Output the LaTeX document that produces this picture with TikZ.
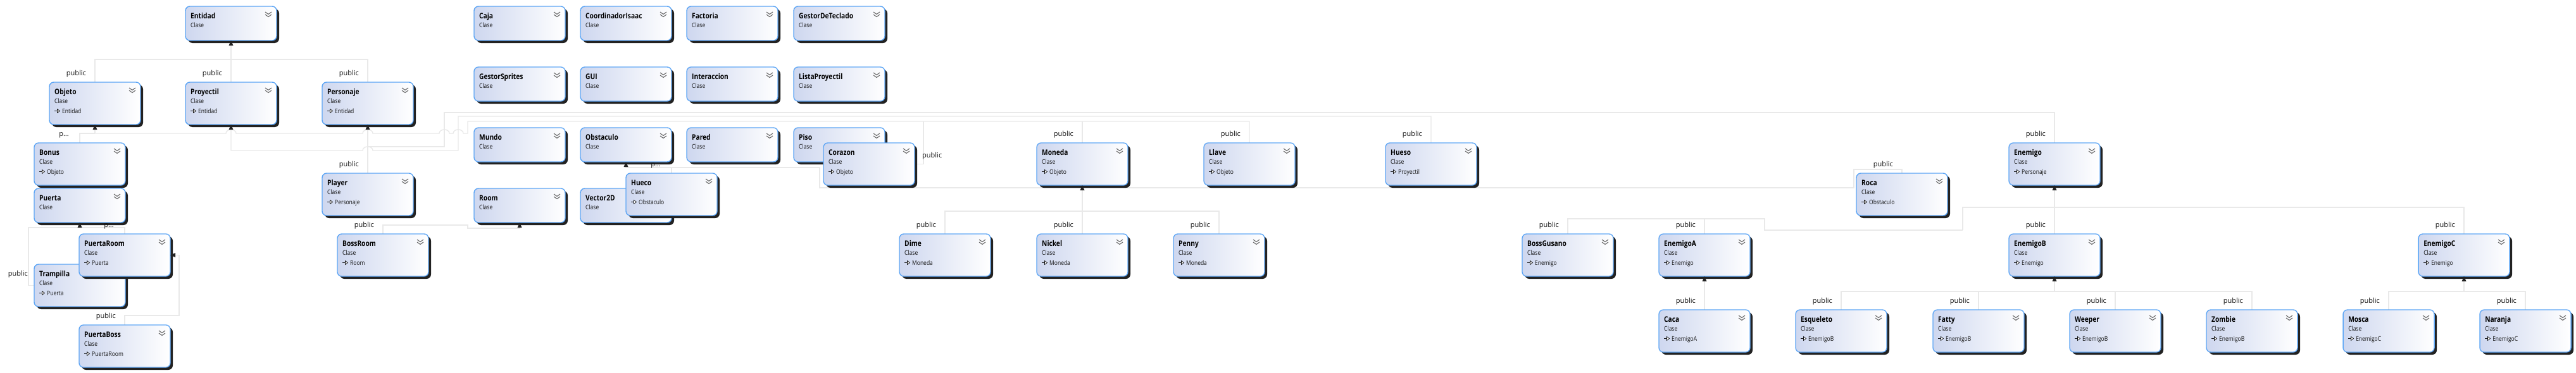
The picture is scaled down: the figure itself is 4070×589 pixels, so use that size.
\documentclass[tikz,border=0pt]{standalone}
\usepackage{fontspec}
\setmainfont{Open Sans}[FakeStretch=0.85]
\newfontfamily\lblfont{Open Sans}
\definecolor{boxL}{RGB}{206,215,239}
\definecolor{boxB}{RGB}{94,166,245}
\definecolor{shc}{RGB}{34,34,34}
\definecolor{connc}{RGB}{233,233,233}
\definecolor{chevc}{RGB}{105,105,105}
\definecolor{txtc}{RGB}{20,20,20}
\pgfdeclarelayer{back}
\pgfdeclarelayer{bg}
\pgfsetlayers{back,bg,main}
\tikzset{
  cbox/.style={rectangle, rounded corners=7pt, draw=boxB, line width=1.4pt, left color=boxL, right color=white, minimum width=144pt, inner sep=0pt, outer sep=0pt},
  ttl/.style={anchor=base west, inner sep=0pt, font=\fontsize{12}{14}\selectfont\bfseries, text=black},
  sub/.style={anchor=base west, inner sep=0pt, font=\fontsize{10}{12}\selectfont, text=txtc},
  conn/.style={draw=connc, line width=1.4pt},
  lbl/.style={anchor=base east, inner sep=0pt, font=\lblfont\fontsize{11}{13}\selectfont, text=txtc},
}
\newcommand\boxcore[5]{%
  \fill[shc, rounded corners=7pt] (#2+4,#3+4) rectangle (#2+148,#3+#4+4);
  \node[cbox, minimum height=#4pt, anchor=north west] (#1) at (#2,#3) {};
  \draw[chevc, line width=1.1pt] (#2+126,#3+9) -- (#2+131,#3+12.5) -- (#2+136,#3+9) (#2+126,#3+13) -- (#2+131,#3+16.5) -- (#2+136,#3+13);
  \node[ttl] (#1-t) at (#2+8,#3+19) {#5};
  \node[sub] (#1-c) at (#2+8,#3+33) {Clase};
}
\newcommand\clsA[4]{\boxcore{#1}{#2}{#3}{54}{#4}}
\newcommand\clsB[5]{\boxcore{#1}{#2}{#3}{67}{#4}%
  \draw[txtc, line width=0.7pt] (#2+8,#3+45.5) -- (#2+13,#3+45.5);
  \draw[txtc, line width=0.7pt, fill=white] (#2+12.5,#3+42.5) -- (#2+16.5,#3+45.5) -- (#2+12.5,#3+48.5) -- cycle;
  \node[sub] (#1-p) at (#2+20,#3+49) {#5};}
\newcommand\hop[2]{-- (#1-8,#2) .. controls (#1-8,#2-8) and (#1+8,#2-8) .. (#1+8,#2)}
\newcommand\lbl[4]{\node[lbl] (#1) at (#2,#3) {#4};}
\begin{document}
\begin{tikzpicture}[x=1pt,y=-1pt]
\begin{pgfonlayer}{back}
\fill[white] (0,0) rectangle (4070,589);
\end{pgfonlayer}
\useasboundingbox (0,0) rectangle (4070,589);
% ---------- boxes ----------
\clsA{entidad}{293}{10}{Entidad}
\clsB{objeto}{78}{130}{Objeto}{Entidad}
\clsB{proyectil}{293}{130}{Proyectil}{Entidad}
\clsB{personaje}{509}{130}{Personaje}{Entidad}
\clsB{bonus}{54}{226}{Bonus}{Objeto}
\clsB{player}{509}{274}{Player}{Personaje}
\clsA{puerta}{54}{298}{Puerta}
\clsB{trampilla}{54}{418}{Trampilla}{Puerta}
\clsB{puertaroom}{125}{370}{PuertaRoom}{Puerta}
\clsB{puertaboss}{125}{514}{PuertaBoss}{PuertaRoom}
\clsB{bossroom}{533}{370}{BossRoom}{Room}
\clsA{caja}{749}{10}{Caja}
\clsA{coordinador}{917}{10}{CoordinadorIsaac}
\clsA{factoria}{1085}{10}{Factoria}
\clsA{gestorteclado}{1254}{10}{GestorDeTeclado}
\clsA{gestorsprites}{749}{106}{GestorSprites}
\clsA{gui}{917}{106}{GUI}
\clsA{interaccion}{1085}{106}{Interaccion}
\clsA{listaproyectil}{1254}{106}{ListaProyectil}
\clsA{mundo}{749}{202}{Mundo}
\clsA{obstaculo}{917}{202}{Obstaculo}
\clsA{pared}{1085}{202}{Pared}
\clsA{piso}{1254}{202}{Piso}
\clsA{room}{749}{298}{Room}
\clsA{vector}{917}{298}{Vector2D}
\clsB{hueco}{989}{274}{Hueco}{Obstaculo}
\clsB{corazon}{1301}{226}{Corazon}{Objeto}
\clsB{moneda}{1638}{226}{Moneda}{Objeto}
\clsB{llave}{1902}{226}{Llave}{Objeto}
\clsB{hueso}{2189}{226}{Hueso}{Proyectil}
\clsB{roca}{2933}{274}{Roca}{Obstaculo}
\clsB{enemigo}{3174}{226}{Enemigo}{Personaje}
\clsB{dime}{1421}{370}{Dime}{Moneda}
\clsB{nickel}{1638}{370}{Nickel}{Moneda}
\clsB{penny}{1854}{370}{Penny}{Moneda}
\clsB{bossgusano}{2405}{370}{BossGusano}{Enemigo}
\clsB{enemigoa}{2621}{370}{EnemigoA}{Enemigo}
\clsB{enemigob}{3174}{370}{EnemigoB}{Enemigo}
\clsB{enemigoc}{3821}{370}{EnemigoC}{Enemigo}
\clsB{caca}{2621}{490}{Caca}{EnemigoA}
\clsB{esqueleto}{2837}{490}{Esqueleto}{EnemigoB}
\clsB{fatty}{3054}{490}{Fatty}{EnemigoB}
\clsB{weeper}{3270}{490}{Weeper}{EnemigoB}
\clsB{zombie}{3486}{490}{Zombie}{EnemigoB}
\clsB{mosca}{3702}{490}{Mosca}{EnemigoC}
\clsB{naranja}{3918}{490}{Naranja}{EnemigoC}
% ---------- connectors ----------
\begin{pgfonlayer}{bg}
\draw[conn] (entidad.south) -- (proyectil.north);
\draw[conn] (objeto.north) -- ++(0,-36) -| (personaje.north);
\draw[conn] (objeto.south) -- ++(0,14) coordinate (ob);
\draw[conn] (bonus.north) |- (ob);
\draw[conn] (ob) \hop{365}{211} \hop{581}{211} \hop{702}{211} \hop{724}{211} -- (739,211) -- (739,192) -| (llave.north);
\draw[conn] (1459,192) |- (corazon.east);
\draw[conn] (moneda.north) -- ++(0,-34);
\draw[conn] (proyectil.south) -- ++(0,41) \hop{581}{238} -- (724,238) -- (724,184) -| (hueso.north);
\draw[conn] (personaje.south) -- (player.north);
\draw[conn] (personaje.south) ++(0,35) -- (702,232) -- (702,178) -| (enemigo.north);
\draw[conn] (obstaculo.south) -- ++(0,9) -| (hueco.north);
\draw[conn] (hueco.north) ++(0,-9) -- (1295,265) -- (1295,297) -- (2929,297) -- (2929,268) -| (roca.north);
\draw[conn] (bossroom.north) -- ++(0,-14) -- (739,356) -- (739,361) -| (room.south);
\draw[conn] (puerta.south) -- ++(0,8) coordinate (pb);
\draw[conn] (trampilla.west) -- ++(-9,0) |- (pb) -| (puertaroom.north);
\draw[conn] (puertaboss.north) -- ++(0,-15) -- (283,499) |- (puertaroom.east);
\draw[conn] (moneda.south) -- (nickel.north);
\draw[conn] (dime.north) -- ++(0,-36) -| (penny.north);
\draw[conn] (enemigo.south) -- (enemigob.north);
\draw[conn] (3101,364) -- (3101,328) -| (enemigoc.north);
\draw[conn] (3101,364) -- (2788,364) -- (2788,346) -| (bossgusano.north);
\draw[conn] (enemigoa.north) -- ++(0,-24);
\draw[conn] (enemigoa.south) -- (caca.north);
\draw[conn] (enemigob.south) -- ++(0,24);
\draw[conn] (esqueleto.north) -- ++(0,-29) -| (zombie.north);
\draw[conn] (fatty.north) -- ++(0,-29);
\draw[conn] (weeper.north) -- ++(0,-29);
\draw[conn] (enemigoc.south) -- ++(0,24);
\draw[conn] (mosca.north) -- ++(0,-29) -| (naranja.north);
\end{pgfonlayer}
% ---------- arrowheads ----------
\foreach \n in {entidad,objeto,proyectil,personaje,puerta,room,obstaculo,moneda,enemigo,enemigoa,enemigob,enemigoc}
  {\fill[shc] (\n.south) -- ++(-3.5,8) -- ++(7,0) -- cycle;}
\fill[shc] (puertaroom.east) -- ++(8,-3.5) -- ++(0,7) -- cycle;
% ---------- labels ----------
\lbl{l1}{136}{119}{public}
\lbl{l2}{351}{119}{public}
\lbl{l3}{567}{119}{public}
\lbl{l4}{109}{215}{p…}
\lbl{l5}{567}{263}{public}
\lbl{l6}{180}{359}{p…}
\lbl{l7}{44}{436}{public}
\lbl{l8}{183}{503}{public}
\lbl{l9}{591}{359}{public}
\lbl{l10}{1044}{263}{p…}
\node[lbl, anchor=base west] (l11) at (1457,249) {public};
\lbl{l12}{1696}{215}{public}
\lbl{l13}{1960}{215}{public}
\lbl{l14}{2247}{215}{public}
\lbl{l15}{2991}{263}{public}
\lbl{l16}{3232}{215}{public}
\lbl{l17}{1479}{359}{public}
\lbl{l18}{1696}{359}{public}
\lbl{l19}{1912}{359}{public}
\lbl{l20}{2463}{359}{public}
\lbl{l21}{2679}{359}{public}
\lbl{l22}{3232}{359}{public}
\lbl{l23}{3879}{359}{public}
\lbl{l24}{2679}{479}{public}
\lbl{l25}{2895}{479}{public}
\lbl{l26}{3112}{479}{public}
\lbl{l27}{3328}{479}{public}
\lbl{l28}{3544}{479}{public}
\lbl{l29}{3760}{479}{public}
\lbl{l30}{3976}{479}{public}
\end{tikzpicture}
\end{document}
